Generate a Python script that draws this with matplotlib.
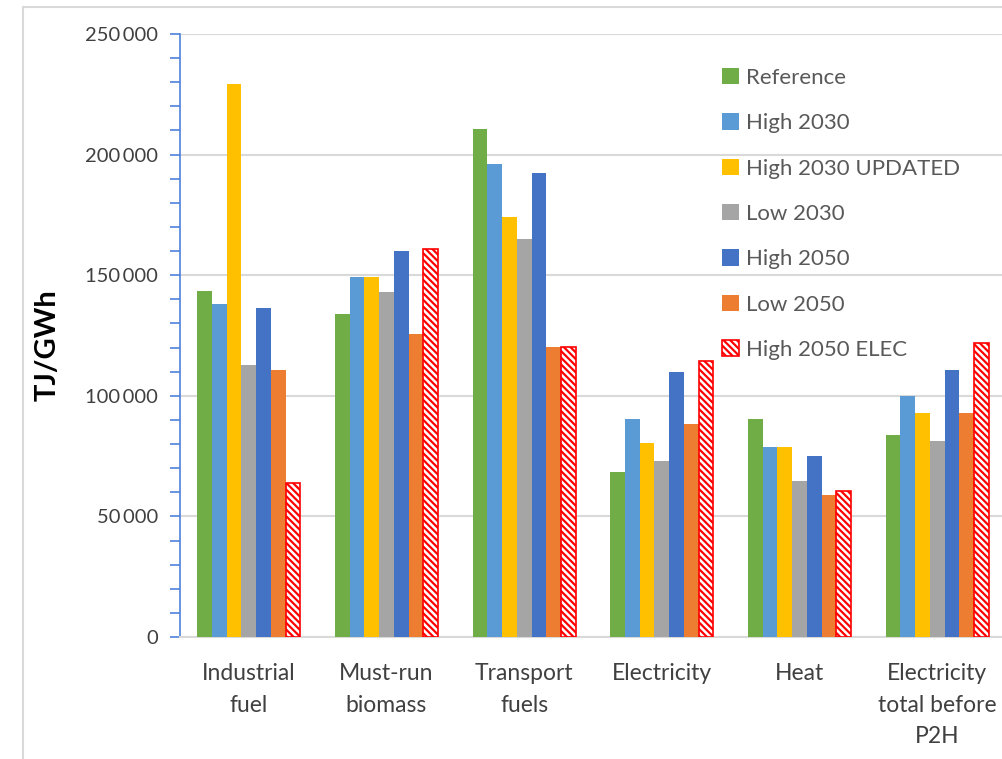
import matplotlib
matplotlib.use("Agg")
import matplotlib.pyplot as plt
from matplotlib.patches import Patch, Rectangle
from matplotlib.ticker import MultipleLocator, FuncFormatter
from matplotlib.legend_handler import HandlerTuple
import numpy as np

categories = ["Industrial\nfuel", "Must-run\nbiomass", "Transport\nfuels",
              "Electricity", "Heat", "Electricity\ntotal before\nP2H"]
series_names = ["Reference", "High 2030", "High 2030 UPDATED", "Low 2030",
                "High 2050", "Low 2050", "High 2050 ELEC"]
reference = [143600, 133800, 210600, 68500, 90200, 83700]
high_2030 = [138100, 149100, 196000, 90200, 78600, 100100]
high_2030_updated = [229100, 149100, 174300, 80500, 78600, 92900]
low_2030 = [112700, 142900, 164900, 73000, 64600, 81300]
high_2050 = [136400, 160000, 192200, 109900, 75000, 110900]
low_2050 = [110700, 125500, 120200, 88200, 58800, 92900]
high_2050_elec = [63700, 161000, 120200, 114500, 60600, 121900]
yticks = [0, 50000, 100000, 150000, 200000, 250000]

series_values = [reference, high_2030, high_2030_updated, low_2030,
                 high_2050, low_2050, high_2050_elec]
colors = ["#70AD47", "#5B9BD5", "#FFC000", "#A5A5A5", "#4472C4", "#ED7D31", "#FF0000"]

plt.rcParams['font.family'] = ['Lato', 'DejaVu Sans']
plt.rcParams['hatch.linewidth'] = 1.8

W, H = 1003, 759
fig = plt.figure(figsize=(W / 100, H / 100), dpi=100)
# axes in pixel coordinates: left 180, right ~1006, bottom 637, top 34
ax = fig.add_axes([180 / W, 1 - 637 / H, (1006 - 180) / W, (637 - 34) / H])

# chart area border (partially cropped)
fig.patches.append(Rectangle((23 / W, -0.1), 1.2, 1 - 7 / H + 0.1,
                             transform=fig.transFigure, fill=False,
                             edgecolor="#D9D9D9", linewidth=1.5, zorder=0))

x = np.arange(len(categories))
n = len(series_values)
group_w = 0.75
bw = group_w / n
hatch = "\\\\\\\\\\"
handles = []
for i, (name, vals, c) in enumerate(zip(series_names, series_values, colors)):
    pos = x - group_w / 2 + bw * (i + 0.5)
    if name == "High 2050 ELEC":
        ax.bar(pos, vals, bw, color=c, edgecolor="white", hatch=hatch,
               linewidth=0, zorder=3)
        ax.bar(pos, vals, bw, fill=False, edgecolor=c, linewidth=1.2, zorder=4)
        h = (Patch(facecolor=c, edgecolor="white", hatch=hatch, linewidth=0),
             Patch(fill=False, edgecolor=c, linewidth=1.2))
    else:
        ax.bar(pos, vals, bw, color=c, linewidth=0, zorder=3)
        h = Patch(facecolor=c, linewidth=0)
    handles.append(h)

ax.set_xlim(-0.5, len(categories) - 0.5)
ax.set_ylim(0, 250000)
ax.set_yticks(yticks)
ax.yaxis.set_minor_locator(MultipleLocator(10000))
ax.yaxis.set_major_formatter(FuncFormatter(
    lambda v, p: "0" if v == 0 else f"{int(v):,}".replace(",", "\u2009")))
ax.grid(axis="y", color="#D9D9D9", linewidth=1.5, zorder=0)
ax.set_axisbelow(True)

for s in ["top", "right"]:
    ax.spines[s].set_visible(False)
ax.spines["left"].set_color("#4F81D9")
ax.spines["left"].set_linewidth(1.2)
ax.spines["bottom"].set_color("#D9D9D9")
ax.spines["bottom"].set_linewidth(1.5)

ax.tick_params(axis="y", which="both", direction="out", length=7,
               color="#4F81D9", width=1.2, labelsize=14.5, labelcolor="#404040", pad=9)
ax.tick_params(axis="x", length=0, labelsize=16.5, labelcolor="#404040", pad=19)
ax.set_xticks(x)
ax.set_xticklabels(categories, linespacing=1.6)

fig.text(48 / W, 1 - 345 / H, "TJ/GWh", rotation=90, ha="center", va="center",
         fontsize=21, fontweight="bold", color="black")

leg = fig.legend(handles, series_names, loc="upper left",
                 bbox_to_anchor=(722 / W, 1 - 68 / H), frameon=False,
                 fontsize=16, labelcolor="#595959", handlelength=0.75,
                 handleheight=0.75, handletextpad=0.35, labelspacing=1.14,
                 borderpad=0, borderaxespad=0,
                 handler_map={tuple: HandlerTuple(ndivide=1)})

fig.savefig("out.png", dpi=100)
